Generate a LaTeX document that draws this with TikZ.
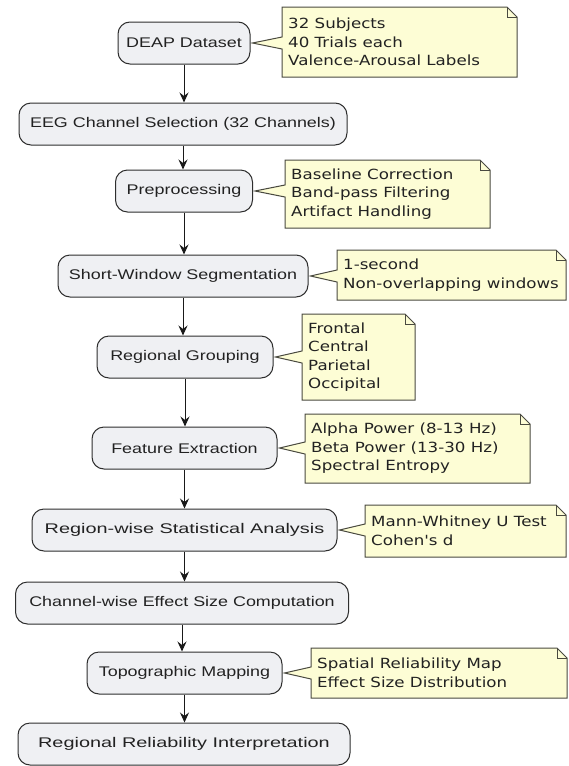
\documentclass[tikz,border=0pt]{standalone}
\usepackage{fontspec}
\newfontfamily\stepfont{Liberation Sans}[FakeStretch=1.28]
\newfontfamily\stepwidefont{Liberation Sans}[FakeStretch=1.42]
\newfontfamily\notefont{DejaVu Sans}[FakeStretch=1.19]
\usetikzlibrary{arrows.meta}
\definecolor{stepfill}{HTML}{EFF0F3}
\definecolor{stepline}{HTML}{2E2E2E}
\definecolor{notefill}{HTML}{FDFDD5}
\definecolor{noteline}{HTML}{4A4A40}
\definecolor{inktext}{HTML}{222222}

% #1 note name, #2 step it annotates, #3 left, #4 top, #5 right, #6 bottom,
% #7 y of the wedge, #8 text
\newcommand\annot[8]{%
  \draw[noteshape] (#3,#4) -- (#5-10,#4) -- (#5,#4+10) -- (#5,#6) -- (#3,#6)
    -- (#3,#7+6) -- ([xshift=2pt]#2.east) -- (#3,#7-6) -- cycle;
  \draw[noteshape, fill=none] (#5-10,#4) -- (#5-10,#4+10) -- (#5,#4+10);
  \node[notetext, anchor=west] (#1) at (#3+6,{(#4+#6)/2}) {#8};
}

\begin{document}
\begin{tikzpicture}[x=1pt,y=-1pt,
  stepbox/.style={draw=stepline, fill=stepfill, line width=1pt,
    rounded corners=12pt, minimum height=42pt, inner xsep=6pt, inner ysep=0pt,
    font=\stepfont\fontsize{14}{17}\selectfont, text=inktext},
  widetext/.style={font=\stepwidefont\fontsize{14}{17}\selectfont},
  noteshape/.style={draw=noteline, fill=notefill, line width=1pt, line join=miter},
  notetext/.style={inner sep=0pt, align=left,
    font=\notefont\fontsize{14}{18.5}\selectfont, text=inktext},
  flow/.style={-{Stealth[length=10pt,width=9pt,inset=3.5pt]}, line width=1pt, draw=black!90},
]
\useasboundingbox[fill=white] (0,0) rectangle (569,766);

% pipeline steps
\node[stepbox, minimum width=132pt] (s1)  at (184,43)  {DEAP Dataset};
\node[stepbox, minimum width=328pt] (s2)  at (183,124) {EEG Channel Selection (32 Channels)};
\node[stepbox, minimum width=137pt] (s3)  at (184,191) {Preprocessing};
\node[stepbox, minimum width=250pt] (s4)  at (183,276) {Short-Window Segmentation};
\node[stepbox, minimum width=176pt] (s5)  at (185,357) {Regional Grouping};
\node[stepbox, minimum width=185pt] (s6)  at (184.5,448) {Feature Extraction};
\node[stepbox, widetext, minimum width=305pt] (s7)  at (184.5,530) {Region-wise Statistical Analysis};
\node[stepbox, minimum width=333pt] (s8)  at (182,603) {Channel-wise Effect Size Computation};
\node[stepbox, minimum width=195pt] (s9)  at (184.5,673) {Topographic Mapping};
\node[stepbox, widetext, minimum width=332pt] (s10) at (184,744) {Regional Reliability Interpretation};

% flow
\foreach \a/\b in {s1/s2,s2/s3,s3/s4,s4/s5,s5/s6,s6/s7,s7/s8,s8/s9,s9/s10}
  \draw[flow] (\a) -- (\a |- \b.north);

% notes
\annot{n1}{s1}{282}{7}{517}{77}{43}{32 Subjects\\40 Trials each\\Valence-Arousal Labels}
\annot{n2}{s3}{285}{160}{490}{228}{191}{Baseline Correction\\Band-pass Filtering\\Artifact Handling}
\annot{n3}{s4}{337}{250}{566}{300}{276}{1-second\\Non-overlapping windows}
\annot{n4}{s5}{302}{314}{415}{400}{357}{Frontal\\Central\\Parietal\\Occipital}
\annot{n5}{s6}{305}{414}{530}{483}{448}{Alpha Power (8-13 Hz)\\Beta Power (13-30 Hz)\\Spectral Entropy}
\annot{n6}{s7}{365}{505}{566}{557}{530}{Mann-Whitney U Test\\Cohen's d}
\annot{n7}{s9}{311}{648}{567}{698}{673}{Spatial Reliability Map\\Effect Size Distribution}
\end{tikzpicture}
\end{document}
